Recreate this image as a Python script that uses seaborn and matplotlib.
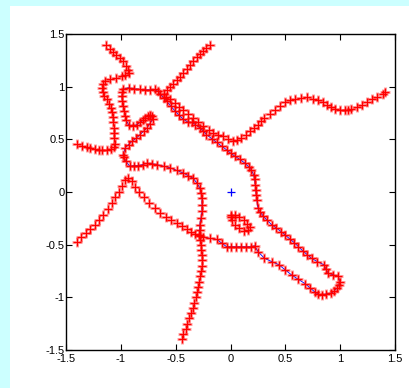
import numpy as np
import pandas as pd
import matplotlib
matplotlib.use('Agg')
import matplotlib.pyplot as plt
import seaborn as sns
from matplotlib.patches import Rectangle

# closed contour (blue line, red markers along it)
contour_x = [-0.98, -0.93, -0.88, -0.825, -0.78, -0.73, -0.69, -0.66, -0.64, -0.61, -0.58, -0.545,
             -0.505, -0.47, -0.43, -0.39, -0.355, -0.32, -0.28, -0.25, -0.22, -0.17, -0.125, -0.08,
             -0.035, 0.0, 0.04, 0.085, 0.13, 0.165, 0.19, 0.21, 0.22, 0.225, 0.23, 0.235, 0.24, 0.25,
             0.27, 0.30, 0.335, 0.375, 0.415, 0.46, 0.50, 0.54, 0.58, 0.62, 0.66, 0.70, 0.74, 0.79,
             0.85, 0.87, 0.89, 0.935, 0.98, 1.0, 0.985, 0.97, 0.945, 0.92, 0.875, 0.83, 0.80, 0.77,
             0.725, 0.68, 0.62, 0.56, 0.50, 0.44, 0.375, 0.31, 0.25, 0.22, 0.19, 0.145, 0.10, 0.05,
             0.0, -0.035, -0.08, -0.125, -0.19, -0.25, -0.285, -0.28, -0.28, -0.27, -0.26, -0.26,
             -0.26, -0.27, -0.28, -0.31, -0.34, -0.385, -0.43, -0.49, -0.55, -0.61, -0.67, -0.72,
             -0.76, -0.80, -0.84, -0.88, -0.92, -0.95, -0.975, -0.98, -0.96, -0.93, -0.90, -0.86,
             -0.825, -0.79, -0.76, -0.735, -0.71, -0.72, -0.73, -0.755, -0.78, -0.80, -0.825, -0.855,
             -0.885, -0.93, -0.95, -0.96, -0.97, -0.98, -0.985, -0.99, -0.985]
contour_y = [0.975, 0.99, 0.98, 0.975, 0.97, 0.97, 0.975, 0.955, 0.93, 0.895, 0.86, 0.815,
             0.77, 0.73, 0.69, 0.665, 0.66, 0.64, 0.61, 0.58, 0.545, 0.505, 0.47, 0.435,
             0.40, 0.37, 0.34, 0.31, 0.275, 0.24, 0.21, 0.165, 0.12, 0.07, 0.02, -0.03, -0.08, -0.15,
             -0.19, -0.23, -0.27, -0.31, -0.34, -0.375, -0.41, -0.445, -0.48, -0.52, -0.56, -0.595, -0.63, -0.66,
             -0.69, -0.73, -0.77, -0.785, -0.80, -0.85, -0.885, -0.915, -0.94, -0.96, -0.965, -0.98, -0.97, -0.95,
             -0.91, -0.87, -0.83, -0.79, -0.74, -0.69, -0.66, -0.63, -0.565, -0.51, -0.52, -0.52, -0.52, -0.52,
             -0.52, -0.52, -0.485, -0.45, -0.44, -0.43, -0.41, -0.36, -0.31, -0.25, -0.185, -0.12,
             -0.06, -0.01, 0.04, 0.09, 0.13, 0.155, 0.18, 0.205, 0.23, 0.245, 0.26, 0.27,
             0.275, 0.26, 0.25, 0.25, 0.245, 0.29, 0.33, 0.355, 0.42, 0.45, 0.48, 0.51,
             0.545, 0.58, 0.61, 0.65, 0.69, 0.725, 0.735, 0.72, 0.705, 0.68, 0.66, 0.64,
             0.625, 0.64, 0.68, 0.72, 0.77, 0.815, 0.865, 0.91, 0.95]

# open curves (red markers only)
hook_x = [-1.135, -1.10, -1.07, -1.04, -1.01, -0.98, -0.95, -0.935, -0.93, -0.96, -0.99, -1.04, -1.10,
          -1.14, -1.165, -1.17, -1.165, -1.15, -1.13, -1.11, -1.09, -1.08, -1.075, -1.07, -1.065, -1.06,
          -1.06, -1.055, -1.06, -1.09, -1.13, -1.17, -1.20, -1.24, -1.28, -1.31, -1.35, -1.40]
hook_y = [1.40, 1.36, 1.33, 1.30, 1.27, 1.24, 1.20, 1.16, 1.13, 1.115, 1.10, 1.085, 1.07,
          1.055, 1.03, 0.99, 0.95, 0.91, 0.88, 0.84, 0.80, 0.76, 0.71, 0.66, 0.61, 0.56,
          0.51, 0.46, 0.43, 0.41, 0.40, 0.40, 0.40, 0.41, 0.42, 0.425, 0.44, 0.46]

wave_x = [-0.19, -0.22, -0.25, -0.28, -0.31, -0.34, -0.37, -0.40, -0.43, -0.46, -0.49, -0.52, -0.55,
          -0.58, -0.61, -0.59, -0.55, -0.51, -0.47, -0.43, -0.385, -0.34, -0.295, -0.25, -0.20, -0.157,
          -0.11, -0.066, -0.02, 0.02, 0.06, 0.10, 0.14, 0.18, 0.215, 0.25, 0.28, 0.31, 0.36, 0.405,
          0.45, 0.50, 0.545, 0.59, 0.645, 0.695, 0.75, 0.80, 0.84, 0.88, 0.92, 0.955, 1.0, 1.04,
          1.07, 1.10, 1.15, 1.20, 1.245, 1.29, 1.34, 1.39, 1.41]
wave_y = [1.40, 1.37, 1.34, 1.31, 1.28, 1.245, 1.21, 1.165, 1.13, 1.095, 1.06, 1.03, 1.00,
          0.965, 0.93, 0.905, 0.88, 0.845, 0.81, 0.78, 0.74, 0.70, 0.66, 0.625, 0.59, 0.56,
          0.545, 0.53, 0.50, 0.48, 0.49, 0.51, 0.545, 0.58, 0.61, 0.64, 0.67, 0.70, 0.74, 0.78,
          0.815, 0.85, 0.87, 0.885, 0.895, 0.90, 0.885, 0.87, 0.85, 0.83, 0.81, 0.79, 0.78, 0.78,
          0.78, 0.79, 0.81, 0.83, 0.855, 0.88, 0.905, 0.93, 0.945]

peak_x = [-1.40, -1.36, -1.32, -1.28, -1.24, -1.20, -1.16, -1.12, -1.08, -1.05, -1.02, -0.99, -0.96,
          -0.935, -0.90, -0.87, -0.83, -0.79, -0.74, -0.69, -0.64, -0.59, -0.54, -0.49, -0.44, -0.40,
          -0.36, -0.32, -0.28]
peak_y = [-0.47, -0.43, -0.39, -0.35, -0.31, -0.27, -0.22, -0.16, -0.10, -0.05, 0.00, 0.06, 0.11,
          0.135, 0.10, 0.05, 0.00, -0.05, -0.10, -0.15, -0.195, -0.235, -0.27, -0.295, -0.325, -0.355,
          -0.38, -0.40, -0.42]

tail_x = [-0.445, -0.43, -0.41, -0.395, -0.375, -0.36, -0.345, -0.33, -0.315, -0.305, -0.295, -0.285,
          -0.275, -0.265, -0.26, -0.26, -0.26, -0.265, -0.27, -0.275]
tail_y = [-1.40, -1.35, -1.30, -1.25, -1.20, -1.15, -1.10, -1.05, -1.00, -0.95, -0.90, -0.85,
          -0.80, -0.75, -0.70, -0.65, -0.60, -0.55, -0.50, -0.46]

blob_x = [0.0, 0.04, 0.08, 0.12, 0.155, 0.18, 0.16, 0.125, 0.08, 0.04, 0.01, 0.0]
blob_y = [-0.22, -0.215, -0.24, -0.27, -0.30, -0.33, -0.36, -0.37, -0.345, -0.31, -0.27, -0.24]

centre_x = [0.0]
centre_y = [0.0]

tick_vals = [-1.5, -1, -0.5, 0, 0.5, 1, 1.5]
tick_labels = ['-1.5', '-1', '-0.5', '0', '0.5', '1', '1.5']

plt.rcParams['font.family'] = ['Liberation Sans', 'DejaVu Sans']

fig = plt.figure(figsize=(4.10, 3.88), dpi=100, facecolor='#ccffff')
fig.add_artist(Rectangle((10 / 410, 0), 400 / 410, 382 / 388, transform=fig.transFigure,
                         facecolor='white', edgecolor='none', zorder=-1))
ax = fig.add_axes([66 / 410, 38 / 388, 329 / 410, 316 / 388])
ax.set_facecolor('white')

# blue contour, underneath the markers
cont = pd.DataFrame({'x': contour_x + contour_x[:1], 'y': contour_y + contour_y[:1]})
sns.lineplot(data=cont, x='x', y='y', sort=False, estimator=None, color='blue',
             linewidth=0.6, zorder=1, ax=ax)

# red + markers: soft halo pass, then solid pass
pts = pd.DataFrame({'x': contour_x + hook_x + wave_x + peak_x + tail_x + blob_x,
                    'y': contour_y + hook_y + wave_y + peak_y + tail_y + blob_y})
sns.scatterplot(data=pts, x='x', y='y', marker='+', color='red', alpha=0.35, s=45,
                linewidth=2.2, zorder=2, ax=ax)
sns.scatterplot(data=pts, x='x', y='y', marker='+', color='red', s=30, linewidth=0.9,
                zorder=3, ax=ax)

sns.scatterplot(x=centre_x, y=centre_y, marker='+', color='blue', s=30, linewidth=0.9, ax=ax)

ax.set_xlim(-1.5, 1.5)
ax.set_ylim(-1.5, 1.5)
ax.set_xticks(tick_vals)
ax.set_xticklabels(tick_labels)
ax.set_yticks(tick_vals)
ax.set_yticklabels(tick_labels)
ax.set_xlabel('')
ax.set_ylabel('')
ax.tick_params(direction='in', top=True, right=True, length=4, width=0.8, labelsize=8, pad=3)
ax.tick_params(axis='y', pad=1)
for sp in ax.spines.values():
    sp.set_linewidth(1.0)

fig.savefig('out.png', dpi=100, facecolor=fig.get_facecolor())
